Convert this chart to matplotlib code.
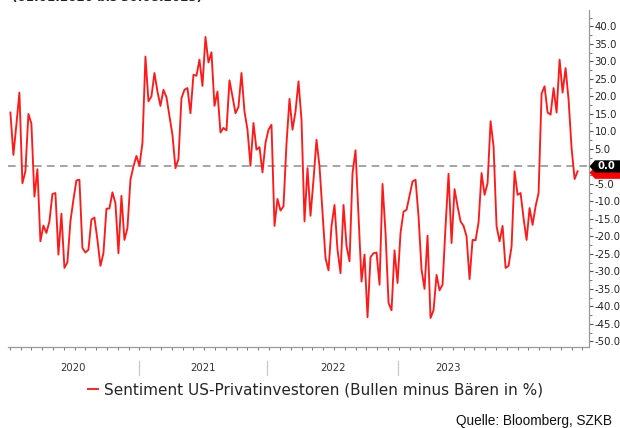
import matplotlib
matplotlib.use("Agg")
import matplotlib.pyplot as plt
import matplotlib.transforms as mtransforms
from matplotlib.patches import Polygon
import numpy as np

# ---- data (weekly readings, 01.01.2020 - 30.08.2023) ----
sentiment = [
    15.4, 3.3, 12.0, 21.1, -4.8, -1.4, 15.0, 12.2, -8.6, -0.8,
    -21.4, -16.9, -19.0, -15.7, -7.9, -7.6, -25.2, -13.5, -29.0, -27.4,
    -15.7, -9.5, -4.0, -3.8, -23.3, -24.6, -23.8, -15.2, -14.6, -21.0,
    -28.4, -24.8, -12.1, -12.0, -7.4, -10.5, -24.8, -8.4, -21.0, -17.6,
    -3.8, 0.0, 3.0, 0.2, 6.7, 31.4, 18.6, 20.0, 26.7, 21.4,
    17.3, 21.9, 19.8, 14.3, 9.0, -0.5, 2.1, 19.5, 21.9, 22.4,
    15.2, 26.2, 25.9, 30.5, 23.0, 37.0, 29.7, 32.6, 17.3, 21.4,
    9.7, 11.0, 10.3, 24.6, 20.0, 15.2, 17.0, 26.7, 15.7, 10.5,
    0.2, 12.4, 4.8, 5.5, -1.7, 6.7, 10.5, 11.9, -17.0, -9.3,
    -12.6, -11.4, 6.5, 19.3, 10.5, 15.7, 24.3, 13.3, -15.7, -0.5,
    -14.1, -3.8, 7.6, 0.0, -13.3, -26.2, -29.7, -17.0, -11.0, -23.8,
    -30.5, -11.0, -22.7, -27.1, -1.9, 4.6, -14.3, -32.9, -25.2, -43.1,
    -25.9, -24.8, -24.6, -33.8, -5.0, -19.0, -39.0, -41.1, -24.0, -33.3,
    -19.0, -12.9, -12.4, -8.4, -4.3, -3.8, -14.3, -29.5, -35.0, -19.8,
    -43.3, -41.1, -31.0, -35.4, -33.8, -17.1, -2.1, -21.9, -6.5, -11.4,
    -15.7, -17.0, -20.0, -32.2, -21.0, -21.1, -16.0, -1.9, -8.1, -4.8,
    12.9, 5.7, -17.1, -21.4, -17.0, -29.0, -28.4, -22.9, -1.4, -8.1,
    -7.6, -14.8, -21.0, -11.9, -16.7, -11.4, -7.6, 20.8, 22.9, 15.4,
    14.8, 22.4, 15.4, 30.5, 21.1, 28.1, 19.0, 5.2, -3.6, -1.4,
]
weeks = np.arange(len(sentiment))

year_labels = ["2020", "2021", "2022", "2023"]
year_label_pos = [20.8, 64.2, 107.5, 145.8]      # in week units, as on the reference axis
year_separators = [42.8, 85.5, 129.2]
ref_line = 0.0
y_ticks = np.arange(-50, 41, 5)

series_label = "Sentiment US-Privatinvestoren (Bullen minus Bären in %)"
source_text = "Quelle: Bloomberg, SZKB"
period_text = "(01.01.2020 bis 30.08.2023)"

# ---- figure ----
W, H = 620, 428
fig = plt.figure(figsize=(W / 100, H / 100), dpi=100)
fig.patch.set_facecolor("white")
ax = fig.add_axes([8 / W, 1 - 347 / H, (589 - 8) / W, (347 - 10) / H])

red = "#ff1a1a"
ax.plot(weeks, sentiment, color=red, lw=1.35, zorder=3, label=series_label)
ax.axhline(ref_line, color="#8c8c8c", lw=1.1, ls=(0, (5, 3.5)), zorder=2)

ax.set_xlim(-0.8, 192.8)
ax.set_ylim(-51.6, 44.7)

for s in ["left", "top"]:
    ax.spines[s].set_visible(False)
ax.spines["right"].set_color("#9a9a9a")
ax.spines["bottom"].set_color("#9a9a9a")
ax.spines["right"].set_linewidth(0.9)
ax.spines["bottom"].set_linewidth(0.9)

ax.yaxis.tick_right()
ax.set_yticks(y_ticks)
# the 0.0 label is shown by the black value tag instead
ax.set_yticklabels(["" if v == ref_line else f"{v:.1f}" for v in y_ticks])
ax.set_yticks(np.arange(-50, 42.6, 2.5), minor=True)
ax.tick_params(axis="y", which="major", length=3, width=0.8, color="#555555",
               labelsize=7.3, labelcolor="#222222", pad=1)
ax.tick_params(axis="y", which="minor", length=1.8, width=0.7, color="#777777")

# bottom axis: monthly minor ticks, no major labels on ticks
ax.set_xticks([])
ax.set_xticks(np.arange(-0.2, 192.8, 3.6), minor=True)
ax.tick_params(axis="x", which="minor", length=2.5, width=0.7, color="#777777")

xt = mtransforms.blended_transform_factory(ax.transData, fig.transFigure)
for lab, p in zip(year_labels, year_label_pos):
    ax.text(p, 1 - 368 / H, lab, transform=xt, ha="center", va="center",
            fontsize=7.3, color="#333333", clip_on=False)
for p in year_separators:
    ax.plot([p, p], [1 - 361 / H, 1 - 375 / H], transform=xt, color="#c8c8c8",
            lw=0.9, clip_on=False)

# value tags on the right axis
tt = mtransforms.blended_transform_factory(fig.transFigure, ax.transData)
def tag(yv, fc, z, txt=None):
    x0, x1, x2 = 589.5 / W, 595 / W, 1.02
    h = 1.75
    poly = Polygon([[x0, yv], [x1, yv + h], [x2, yv + h], [x2, yv - h], [x1, yv - h]],
                   closed=True, transform=tt, facecolor=fc, edgecolor="none",
                   zorder=z, clip_on=False)
    ax.add_patch(poly)
    if txt is not None:
        ax.text(597 / W, yv, txt, transform=tt, color="white", fontsize=7.3,
                fontweight="bold", ha="left", va="center", zorder=z + 0.1,
                clip_on=False)

tag(sentiment[-1] - 0.4, "#ff0000", 10)          # last value tag, hidden behind
tag(ref_line, "black", 12, f"{ref_line:.1f}")

# legend
leg = fig.legend(handles=ax.get_lines()[:1], loc="center",
                 bbox_to_anchor=(316 / W, 1 - 390 / H), frameon=False,
                 handlelength=0.6, handletextpad=0.45, fontsize=11.0,
                 labelcolor="#262626")

fig.text(612 / W, 1 - 421 / H, source_text, ha="right", va="center",
         fontsize=9.8, color="#111111",
         family=["Liberation Sans", "DejaVu Sans"])
# header line, cut off at the top edge as in the reference
fig.text(12 / W, 1 - 1.5 / H, period_text, ha="left", va="baseline",
         fontsize=8.6, fontweight="bold", color="#222222")

fig.savefig("out.png", dpi=100, facecolor="white")
